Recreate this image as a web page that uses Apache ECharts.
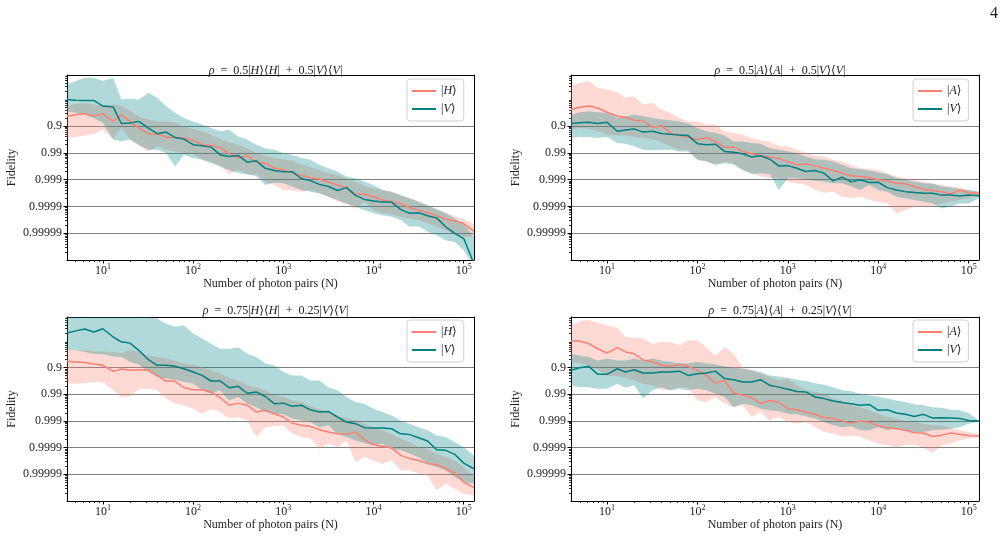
<!DOCTYPE html>
<html>
<head>
<meta charset="utf-8">
<script src="https://cdn.jsdelivr.net/npm/echarts@6/dist/echarts.min.js"></script>
<style>
  html, body { margin: 0; background: #fff; }
  #chart { width: 1007px; height: 541px; }
</style>
</head>
<body>
<div id="chart"></div>
<script>
// x: number of photon pairs; y: "nines" of fidelity, i.e. -log10(1 - F)
const photonPairs = [4, 5, 6.3, 7.9, 10, 13, 16, 20, 25, 32, 40, 50, 63, 79, 100, 126, 158, 200, 251, 316,
  398, 501, 631, 794, 1000, 1259, 1585, 1995, 2512, 3162, 3981, 5012, 6310, 7943, 10000, 12589,
  15849, 19953, 25119, 31623, 39811, 50119, 63096, 79433, 100000, 130000];

const xTickValues = [10, 100, 1000, 10000, 100000];
const xTickExponents = ['1', '2', '3', '4', '5'];
const yTickValues = [1, 2, 3, 4, 5];
const yTickLabels = ['0.9', '0.99', '0.999', '0.9999', '0.99999'];

// panel 1: rho = 0.5|H><H| + 0.5|V><V|
const h1Mean = [0.64,0.58,0.54,0.64,0.55,0.83,0.59,0.83,1.08,1.29,1.30,1.41,1.43,1.45,1.54,1.70,1.73,1.80,2.04,2.20,2.11,2.35,2.39,2.58,2.64,2.74,2.85,2.93,2.98,3.10,3.20,3.30,3.54,3.55,3.64,3.76,3.83,3.89,4.04,4.14,4.24,4.35,4.48,4.54,4.64,4.93];
const h1Lo = [0.26,0.18,0.14,0.20,0.24,0.20,0.26,0.43,0.64,0.76,0.83,0.83,0.86,1.01,1.11,1.20,1.33,1.49,1.61,1.70,1.83,2.01,2.11,2.20,2.24,2.30,2.45,2.54,2.64,2.76,2.83,2.95,3.08,3.24,3.33,3.39,3.45,3.61,3.70,3.83,3.99,4.11,4.24,4.36,4.49,4.66];
const h1Hi = [1.45,1.41,1.36,1.29,1.14,1.49,1.08,1.51,1.74,1.95,1.76,1.89,1.95,2.01,2.04,2.26,2.33,2.49,2.79,2.64,2.83,2.79,3.08,3.20,3.39,3.39,3.45,3.39,3.51,3.64,3.83,3.91,4.08,3.83,4.14,4.26,4.30,4.39,4.45,4.51,4.64,4.76,4.89,5.05,5.14,5.11];
const v1Mean = [0.01,0.04,0.05,0.05,0.26,0.29,0.91,0.89,0.83,1.08,1.29,1.23,1.43,1.49,1.70,1.74,1.79,2.08,2.14,2.10,2.35,2.30,2.58,2.66,2.71,2.71,2.96,3.04,3.18,3.26,3.41,3.30,3.59,3.74,3.80,3.84,3.84,4.11,4.26,4.24,4.35,4.43,4.76,5.01,5.20,6.14];
const v1Lo = [-0.55,-0.68,-0.80,-0.80,-0.68,-0.80,0.01,-0.01,0.01,-0.24,-0.05,0.26,0.51,0.70,0.83,0.95,1.08,1.20,1.14,1.39,1.51,1.70,1.83,1.89,2.01,2.08,2.20,2.26,2.45,2.58,2.70,2.89,2.95,3.08,3.20,3.39,3.45,3.58,3.70,3.83,3.95,4.11,4.26,4.45,4.64,5.14];
const v1Hi = [0.45,0.51,0.58,0.70,0.89,1.51,1.58,1.51,1.70,1.89,1.89,2.01,2.51,2.08,2.20,2.26,2.39,2.51,2.64,2.76,2.79,2.89,3.20,3.11,3.14,3.26,3.39,3.45,3.51,3.64,3.76,3.89,4.01,4.14,4.26,4.33,4.39,4.51,4.76,4.74,4.95,5.08,5.26,5.33,5.64,6.26];

// panel 2: rho = 0.5|A><A| + 0.5|V><V|
const a2Mean = [0.39,0.30,0.26,0.33,0.49,0.64,0.68,0.79,0.80,1.05,0.99,1.26,1.36,1.41,1.51,1.43,1.58,1.80,1.79,1.95,2.04,2.11,2.16,2.21,2.33,2.45,2.41,2.49,2.58,2.66,2.76,2.86,2.89,2.93,3.01,3.05,3.14,3.16,3.26,3.36,3.41,3.45,3.54,3.39,3.49,3.51];
const a2Lo = [-0.49,-0.61,-0.68,-0.43,-0.36,-0.26,-0.05,-0.11,0.20,0.14,0.39,0.51,0.70,0.83,0.83,0.95,0.95,1.20,1.26,1.33,1.45,1.54,1.58,1.76,1.76,1.89,2.01,2.10,2.14,2.26,2.33,2.45,2.58,2.61,2.64,2.76,2.89,2.95,3.01,3.08,3.14,3.20,3.26,3.29,3.39,3.45];
const a2Hi = [1.14,1.08,1.11,1.20,1.33,1.36,1.36,1.41,1.45,1.51,1.61,1.76,1.89,1.89,2.26,2.33,2.45,2.33,2.39,2.64,2.76,2.89,2.95,2.95,3.08,3.14,3.20,3.39,3.49,3.45,3.64,3.70,3.64,3.76,3.83,3.89,4.26,4.14,4.01,4.01,4.01,3.89,3.83,3.76,3.70,3.58];
const v2Mean = [0.91,0.88,0.86,0.91,0.86,1.20,1.15,1.11,1.23,1.20,1.28,1.31,1.34,1.36,1.66,1.70,1.68,1.95,1.98,2.04,2.16,2.11,2.24,2.49,2.48,2.58,2.70,2.66,2.76,3.05,2.91,3.08,3.01,3.11,3.10,3.30,3.39,3.45,3.48,3.51,3.51,3.58,3.58,3.61,3.58,3.60];
const v2Lo = [0.58,0.49,0.45,0.49,0.51,0.70,0.64,0.58,0.64,0.70,0.76,0.79,0.83,0.91,1.08,1.20,1.26,1.36,1.58,1.58,1.64,1.66,1.83,1.89,1.95,2.01,2.14,2.24,2.26,2.33,2.45,2.58,2.61,2.66,2.74,2.79,2.95,2.99,3.08,3.14,3.16,3.26,3.29,3.36,3.39,3.45];
const v2Hi = [1.45,1.41,1.41,1.45,1.41,1.64,1.66,1.76,1.89,1.91,1.89,1.89,1.95,1.95,2.26,2.33,2.45,2.39,2.45,2.64,2.79,2.76,2.79,3.39,2.95,2.95,3.01,3.04,3.08,3.14,3.14,3.26,3.39,3.20,3.39,3.45,3.64,3.70,3.76,3.83,3.89,4.08,4.01,3.89,3.89,3.70];

// panel 3: rho = 0.75|H><H| + 0.25|V><V|
const h3Mean = [0.76,0.79,0.81,0.86,0.91,1.14,1.05,1.10,1.09,1.08,1.29,1.50,1.50,1.75,1.83,1.83,1.91,2.13,2.41,2.33,2.41,2.66,2.60,2.73,2.85,3.08,3.16,3.20,3.33,3.41,3.48,3.50,3.41,3.70,3.89,3.95,4.00,4.29,4.41,4.48,4.60,4.63,4.79,4.95,5.29,5.50];
const h3Lo = [0.29,0.35,0.35,0.38,0.39,0.41,0.45,0.35,0.41,0.54,0.60,0.66,0.73,0.85,0.88,0.98,1.10,1.23,1.38,1.48,1.66,1.73,1.85,2.04,2.10,2.23,2.29,2.45,2.54,2.66,2.79,2.91,2.98,3.10,3.23,3.35,3.48,3.66,3.79,3.98,4.04,4.23,4.35,4.48,4.73,5.10];
const h3Hi = [1.58,1.60,1.58,1.54,1.54,1.85,2.10,2.08,1.79,1.79,1.85,2.16,2.35,2.41,2.54,2.73,2.54,2.66,2.91,2.85,2.98,3.60,3.23,3.20,3.16,3.48,3.60,3.66,4.04,3.85,3.98,3.73,4.54,4.35,4.48,4.60,4.48,4.85,4.85,4.98,5.04,5.60,5.35,5.54,5.73,5.79];
const v3Mean = [-0.30,-0.38,-0.45,-0.34,-0.46,-0.15,0.03,0.08,0.35,0.70,0.91,0.91,0.95,1.04,1.16,1.29,1.50,1.50,1.75,1.70,1.96,1.91,2.08,2.35,2.33,2.45,2.41,2.58,2.66,2.64,2.85,3.04,3.10,3.25,3.26,3.26,3.29,3.48,3.51,3.63,3.75,4.08,4.10,4.25,4.58,4.79];
const v3Lo = [-0.95,-0.95,-0.95,-0.95,-0.95,-0.95,-0.95,-0.95,-0.95,-0.90,-0.84,-0.65,-0.53,-0.59,-0.28,-0.09,0.10,0.29,0.29,0.23,0.48,0.60,0.83,0.91,1.16,1.29,1.29,1.48,1.48,1.73,1.85,2.10,2.29,2.35,2.54,2.66,2.79,2.98,3.10,3.23,3.35,3.54,3.60,3.79,3.98,4.29];
const v3Hi = [0.33,0.35,0.41,0.48,0.50,0.58,0.60,0.79,0.88,1.16,1.35,1.41,1.45,1.54,1.60,1.85,1.98,1.85,2.23,2.10,2.35,2.48,2.66,2.73,2.75,2.91,2.98,3.04,3.23,3.16,3.48,3.60,3.73,3.83,3.91,3.85,4.08,4.10,4.23,4.35,4.60,4.73,4.85,5.10,5.29,5.35];

// panel 4: rho = 0.75|A><A| + 0.25|V><V|
const a4Mean = [0.00,0.00,0.10,0.29,0.45,0.25,0.41,0.48,0.71,0.78,0.91,0.95,0.88,0.95,1.10,1.30,1.58,1.48,1.95,2.03,2.13,2.35,2.23,2.30,2.54,2.58,2.66,2.75,2.88,2.90,3.00,3.08,3.00,3.05,3.18,3.25,3.29,3.35,3.44,3.45,3.58,3.53,3.45,3.50,3.55,3.56];
const a4Lo = [-0.59,-0.75,-0.78,-0.68,-0.59,-0.50,-0.15,-0.13,-0.09,0.10,0.04,0.04,0.16,-0.03,-0.03,0.25,0.54,0.23,0.48,0.98,1.10,1.23,1.35,1.48,1.41,1.66,1.85,1.91,1.98,2.16,2.23,2.41,2.48,2.60,2.73,2.85,2.91,3.00,3.04,3.10,3.16,3.16,3.25,3.35,3.41,3.48];
const a4Hi = [0.79,0.83,0.91,1.10,1.29,1.33,1.38,1.48,1.60,1.66,1.83,1.85,1.73,1.75,2.23,2.29,2.10,2.35,2.48,2.41,2.85,2.66,2.98,2.85,3.04,3.10,3.04,3.23,3.41,3.48,3.58,3.54,3.60,3.73,3.85,3.91,3.98,3.91,3.91,3.98,4.20,3.91,3.85,3.73,3.66,3.60];
const v4Mean = [1.10,1.00,0.95,1.25,1.25,1.04,1.16,1.08,1.20,1.20,1.16,1.16,1.13,1.29,1.23,1.20,1.13,1.41,1.45,1.54,1.54,1.45,1.66,1.73,1.81,1.89,1.91,2.10,2.16,2.25,2.31,2.35,2.41,2.38,2.60,2.58,2.70,2.75,2.83,2.75,2.89,2.88,2.89,2.91,2.98,3.00];
const v4Lo = [0.48,0.54,0.60,0.73,0.66,0.73,0.73,0.66,0.73,0.66,0.73,0.79,0.83,0.83,0.79,0.83,0.88,0.95,1.00,1.04,1.10,1.16,1.29,1.33,1.38,1.45,1.50,1.58,1.64,1.73,1.85,1.88,1.98,2.04,2.08,2.16,2.23,2.29,2.38,2.41,2.48,2.50,2.58,2.60,2.70,2.98];
const v4Hi = [1.66,1.73,1.73,1.79,1.79,1.60,1.75,1.66,2.16,1.85,1.73,1.85,1.79,1.85,1.79,1.85,1.98,2.10,2.48,2.35,2.41,2.54,2.60,2.63,2.73,2.75,2.83,2.91,3.04,3.16,3.23,3.20,3.35,3.35,3.23,3.35,3.25,3.35,3.41,3.41,3.35,3.33,3.29,3.23,3.10,3.04];

const FONT = '"Liberation Serif", "DejaVu Serif", serif';
const TEXT = '#222';
const colors = ['#fa8072', '#008080'];
const bandFills = ['rgba(250,128,114,0.3)', 'rgba(0,128,128,0.3)'];
const xMin = 4, xMax = 130000;
const yMin = -0.9, yMax = 6.0;

const panels = [
  { box: { left: 67, top: 75, width: 407, height: 185 }, titleTop: 60, legendPos: { left: 407, top: 79 },
    title: '{i|ρ}\u2002=\u20020.5|{i|H}⟩⟨{i|H}|\u2002+\u20020.5|{i|V}⟩⟨{i|V}|',
    names: ['H', 'V'], sets: [[h1Lo, h1Mean, h1Hi], [v1Lo, v1Mean, v1Hi]] },
  { box: { left: 571, top: 75, width: 408, height: 185 }, titleTop: 60, legendPos: { left: 913, top: 79 },
    title: '{i|ρ}\u2002=\u20020.5|{i|A}⟩⟨{i|A}|\u2002+\u20020.5|{i|V}⟩⟨{i|V}|',
    names: ['A', 'V'], sets: [[a2Lo, a2Mean, a2Hi], [v2Lo, v2Mean, v2Hi]] },
  { box: { left: 67, top: 317, width: 407, height: 184 }, titleTop: 300, legendPos: { left: 407, top: 320 },
    title: '{i|ρ}\u2002=\u20020.75|{i|H}⟩⟨{i|H}|\u2002+\u20020.25|{i|V}⟩⟨{i|V}|',
    names: ['H', 'V'], sets: [[h3Lo, h3Mean, h3Hi], [v3Lo, v3Mean, v3Hi]] },
  { box: { left: 571, top: 317, width: 408, height: 184 }, titleTop: 300, legendPos: { left: 913, top: 320 },
    title: '{i|ρ}\u2002=\u20020.75|{i|A}⟩⟨{i|A}|\u2002+\u20020.25|{i|V}⟩⟨{i|V}|',
    names: ['A', 'V'], sets: [[a4Lo, a4Mean, a4Hi], [v4Lo, v4Mean, v4Hi]] }
];

// log minor tick positions
const xMinor = [];
for (let e = 0; e <= 5; e++) for (let m = 2; m <= 9; m++) {
  const v = m * Math.pow(10, e);
  if (v > xMin && v < xMax) xMinor.push(v);
}
const yMinor = [];
for (let j = 0; j <= 6; j++) for (let m = 2; m <= 9; m++) {
  const v = j - Math.log10(m);
  if (v > yMin && v < yMax) yMinor.push(v);
}

const pairs = vals => vals.map((v, k) => [photonPairs[k], v]);
const line = { color: '#000', width: 1 };
const hidden = { show: false };

// fill_between as one polygon, through the axis scales
function bandSeries(i, lo, hi, fill) {
  const rows = photonPairs.map((n, k) => [n, lo[k], hi[k]]);
  return {
    type: 'custom', xAxisIndex: 3 * i, yAxisIndex: 3 * i, clip: true, silent: true,
    data: rows, encode: { x: 0, y: [1, 2] },
    renderItem: (params, api) => {
      if (params.dataIndex !== 0) return null;
      const top = rows.map(r => api.coord([r[0], r[1]]));
      const bottom = rows.map(r => api.coord([r[0], r[2]])).reverse();
      return { type: 'polygon', shape: { points: top.concat(bottom) }, style: { fill, stroke: null } };
    }
  };
}

const option = {
  animation: false,
  title: [], grid: [], xAxis: [], yAxis: [], legend: [], series: [],
  graphic: [{ type: 'text', left: 990, top: 6, style: { text: '4', font: '16px ' + FONT, fill: TEXT } }]
};

panels.forEach((p, i) => {
  option.grid.push({ ...p.box });
  option.title.push({
    text: p.title, left: p.box.left + p.box.width / 2, top: p.titleTop, textAlign: 'center',
    textStyle: { fontFamily: FONT, fontSize: 12, fontWeight: 'normal', color: TEXT,
      rich: { i: { fontFamily: FONT, fontSize: 12, fontStyle: 'italic', color: TEXT } } }
  });

  const xBase = { gridIndex: i, type: 'log', logBase: 10, min: xMin, max: xMax, splitLine: hidden };
  option.xAxis.push({
    ...xBase, position: 'bottom',
    axisLine: { show: true, onZero: false, lineStyle: line },
    axisTick: { show: true, length: 3.5, customValues: xTickValues, lineStyle: line },
    axisLabel: {
      customValues: xTickValues, margin: 3, color: TEXT, fontFamily: FONT, fontSize: 12,
      formatter: v => '{b|10}{s|' + xTickExponents[xTickValues.indexOf(Math.round(v))] + '}',
      rich: { b: { fontFamily: FONT, fontSize: 12, color: TEXT, verticalAlign: 'bottom' },
              s: { fontFamily: FONT, fontSize: 8, color: TEXT, verticalAlign: 'bottom', padding: [0, 0, 6, 0] } }
    },
    name: 'Number of photon pairs (N)', nameLocation: 'middle', nameGap: 18,
    nameTextStyle: { fontFamily: FONT, fontSize: 12, color: TEXT }
  });
  option.xAxis.push({
    ...xBase, position: 'bottom', axisLine: { show: false, onZero: false },
    axisTick: { show: true, length: 2, customValues: xMinor, lineStyle: { color: '#000', width: 0.8 } },
    axisLabel: hidden
  });
  option.xAxis.push({
    ...xBase, position: 'top', axisLine: { show: true, onZero: false, lineStyle: line },
    axisTick: hidden, axisLabel: hidden
  });

  const yBase = { gridIndex: i, type: 'value', inverse: true, min: yMin, max: yMax };
  option.yAxis.push({
    ...yBase, position: 'left',
    axisLine: { show: true, onZero: false, lineStyle: line },
    axisTick: { show: true, length: 3.5, customValues: yTickValues, lineStyle: line },
    axisLabel: {
      customValues: yTickValues, margin: 5, color: TEXT, fontFamily: FONT, fontSize: 12,
      formatter: v => yTickLabels[yTickValues.indexOf(Math.round(v))]
    },
    splitLine: { show: true, lineStyle: { color: '#808080', width: 1 } },
    name: 'Fidelity', nameLocation: 'middle', nameGap: 49,
    nameTextStyle: { fontFamily: FONT, fontSize: 12, color: TEXT }
  });
  option.yAxis.push({
    ...yBase, position: 'left', axisLine: { show: false, onZero: false },
    axisTick: { show: true, length: 2, customValues: yMinor, lineStyle: { color: '#000', width: 0.8 } },
    axisLabel: hidden, splitLine: hidden
  });
  option.yAxis.push({
    ...yBase, position: 'right', axisLine: { show: true, onZero: false, lineStyle: line },
    axisTick: hidden, axisLabel: hidden, splitLine: hidden
  });

  option.legend.push({
    ...p.legendPos, orient: 'vertical', data: p.names, selectedMode: false,
    icon: 'rect', itemWidth: 24, itemHeight: 2, itemGap: 4, padding: [5, 7, 5, 5],
    borderColor: '#d0d0d0', borderWidth: 1, borderRadius: 3, backgroundColor: 'rgba(255,255,255,0.8)',
    formatter: n => '|{i|' + n + '}⟩',
    textStyle: { fontFamily: FONT, fontSize: 12, lineHeight: 14, color: TEXT,
      rich: { i: { fontFamily: FONT, fontSize: 12, lineHeight: 14, fontStyle: 'italic', color: TEXT } } }
  });

  p.sets.forEach(([lo, mean, hi], s) => {
    option.series.push(bandSeries(i, lo, hi, bandFills[s]));
    option.series.push({
      xAxisIndex: 3 * i, yAxisIndex: 3 * i, type: 'line', name: p.names[s], data: pairs(mean),
      symbol: 'none', silent: true, color: colors[s], lineStyle: { color: colors[s], width: 1.5 }
    });
  });
});

const chart = echarts.init(document.getElementById('chart'), null, { renderer: 'canvas' });
chart.setOption(option);
</script>
</body>
</html>
